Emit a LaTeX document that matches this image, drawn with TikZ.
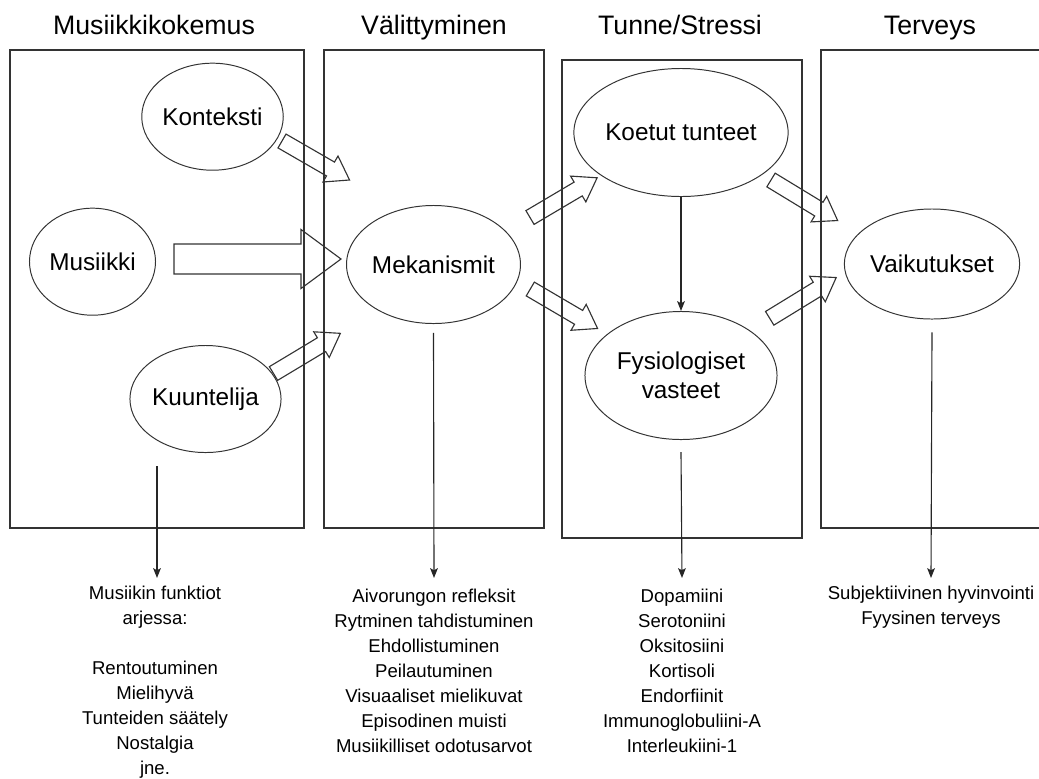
\documentclass[tikz,border=0pt]{standalone}
\usepackage{fontspec}
\setmainfont{Liberation Sans}
\usetikzlibrary{arrows.meta, shapes.geometric}

\begin{document}
\begin{tikzpicture}[
    x=0.025cm, y=0.025cm,
    panel/.style={rectangle, draw=black!80, line width=1pt, minimum height=11.95cm, inner sep=0pt},
    bubble/.style={ellipse, draw=black!80, line width=0.7pt, inner sep=0pt, align=center, font=\fontsize{17.3}{20.6}\selectfont},
    heading/.style={anchor=base, font=\fontsize{19}{22}\selectfont},
    listing/.style={anchor=north, align=center, inner xsep=1pt, inner ysep=7.5pt, font=\fontsize{13.2}{17.8}\selectfont},
    arrow/.style={-{Stealth[length=7pt, width=5.5pt, inset=1.5pt]}, draw=black!85, line width=0.8pt},
    pics/blockarrow/.style args={#1/#2/#3/#4}{code={
        \draw[line width=0.8pt, draw=black!80] (0,-#2) -- (#1-#4,-#2) -- (#1-#4,-#3) -- (#1,0) -- (#1-#4,#3) -- (#1-#4,#2) -- (0,#2) -- cycle;}}
]
\useasboundingbox (0,0) rectangle (1039,-778);
\clip (0,0) rectangle (1039,-778);

\node[heading] (t1) at (154,-34) {Musiikkikokemus};
\node[heading] (t2) at (434,-34) {Välittyminen};
\node[heading] (t3) at (680,-34) {Tunne/Stressi};
\node[heading] (t4) at (930,-34) {Terveys};

\node[panel, minimum width=7.35cm] (box1) at (157,-289) {};
\node[panel, minimum width=5.5cm] (box2) at (434,-289) {};
\node[panel, minimum width=6cm] (box3) at (682,-299) {};
\node[panel, minimum width=5.6cm] (box4) at (933,-289) {};

\node[bubble, minimum width=3.175cm, minimum height=2.675cm] (konteksti) at (212.5,-116.7) {Konteksti};
\node[bubble, minimum width=3.15cm, minimum height=2.675cm] (musiikki) at (92.5,-261.7) {Musiikki};
\node[bubble, minimum width=3.175cm, minimum height=2.675cm] (kuuntelija) at (205.5,-399) {Kuuntelija};
\node[bubble, minimum width=4.325cm, minimum height=2.95cm] (mekanismit) at (433.5,-264.5) {Mekanismit};
\node[bubble, minimum width=4.8cm, minimum height=3.2cm] (koetut) at (681,-132.5) {Koetut tunteet};
\node[bubble, minimum width=4.8cm, minimum height=3.2cm] (fysio) at (681,-375.5) {Fysiologiset\\vasteet};
\node[bubble, minimum width=4.175cm, minimum height=2.75cm] (vaikutukset) at (932,-264) {Vaikutukset};

% hollow block arrows
\pic[rotate=-30] at (282,-141) {blockarrow=78/8/15/22};
\pic at (174,-259) {blockarrow=167/15/29.5/40};
\pic[rotate=31] at (273.5,-373.5) {blockarrow=78/8/15/22};
\pic[rotate=30.6] at (530,-217.5) {blockarrow=78/8/15/22};
\pic[rotate=-30.4] at (530.3,-289) {blockarrow=78/8/15/22};
\pic[rotate=-31.3] at (771,-180) {blockarrow=78/8/15/22};
\pic[rotate=31.5] at (769.7,-318.3) {blockarrow=78/8/15/22};

\node[listing, inner ysep=5.5pt] (list1) at (155,-578) {Musiikin funktiot\\arjessa:\\[17.8pt]Rentoutuminen\\Mielihyvä\\Tunteiden säätely\\Nostalgia\\jne.};
\node[listing] (list2) at (434,-578) {Aivorungon refleksit\\Rytminen tahdistuminen\\Ehdollistuminen\\Peilautuminen\\Visuaaliset mielikuvat\\Episodinen muisti\\Musiikilliset odotusarvot};
\node[listing] (list3) at (682,-578) {Dopamiini\\Serotoniini\\Oksitosiini\\Kortisoli\\Endorfiinit\\Immunoglobuliini-A\\Interleukiini-1};
\node[listing, inner ysep=5.5pt] (list4) at (931,-578) {Subjektiivinen hyvinvointi\\Fyysinen terveys};

\coordinate (s1) at (157,-466);
\draw[arrow] (s1) -- (s1 |- list1.north);
\draw[arrow] ([yshift=-0.22cm]mekanismit.south) -- (list2.north);
\draw[arrow] (koetut) -- (fysio);
\draw[arrow] ([yshift=-0.3cm]fysio.south) -- (list3.north);
\draw[arrow] ([yshift=-0.32cm]vaikutukset.south) -- (list4.north);

\end{tikzpicture}
\end{document}
